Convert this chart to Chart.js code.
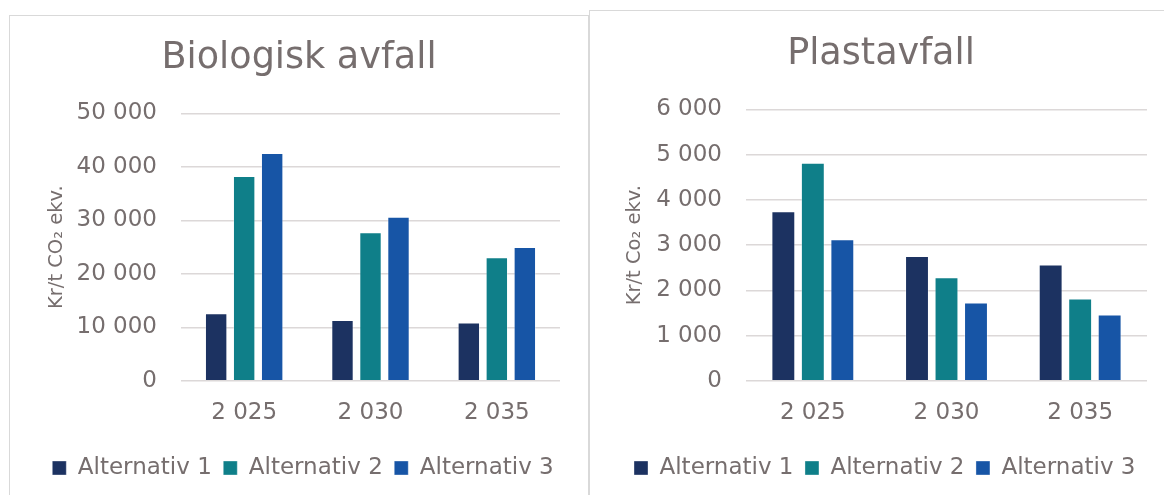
<!DOCTYPE html>
<html>
<head>
<meta charset="utf-8">
<script src="https://cdn.jsdelivr.net/npm/chart.js@4.4.1/dist/chart.umd.min.js"></script>
<style>
  html, body { margin: 0; padding: 0; background: #fff; width: 1164px; height: 495px; overflow: hidden; }
  .panel { position: absolute; box-sizing: border-box; border: 1px solid #d9d9d9; background: #fff; }
  #p1 { left: 9px; top: 15px; width: 580px; height: 510px; }
  #p2 { left: 589px; top: 10px; width: 584px; height: 515px; }
  canvas { position: absolute; left: 0; top: 0; }
</style>
</head>
<body>
<div class="panel" id="p1"><canvas id="bio" width="578" height="480"></canvas></div>
<div class="panel" id="p2"><canvas id="plast" width="582" height="485"></canvas></div>
<script>
// Categories and series
const categories = ['2 025', '2 030', '2 035'];
const seriesNames = ['Alternativ 1', 'Alternativ 2', 'Alternativ 3'];
const seriesColors = ['#1c3261', '#0f7f89', '#1755a6'];

// Biologisk avfall, kr per tonn CO2-ekvivalent
const bioAlt1 = [12650, 11350, 10900];
const bioAlt2 = [38300, 27800, 23100];
const bioAlt3 = [42600, 30700, 25000];

// Plastavfall, kr per tonn CO2-ekvivalent
const plastAlt1 = [3750, 2760, 2570];
const plastAlt2 = [4820, 2290, 1820];
const plastAlt3 = [3130, 1730, 1465];

const textColor = '#766e6e';
const gridColor = '#dcd8d8';
const fontFamily = "'DejaVu Sans', Verdana, sans-serif";

function fmtThousands(v) {
  return String(Math.round(v)).replace(/\B(?=(\d{3})+(?!\d))/g, ' ');
}

// Nudges the legend row and the title sideways after layout
const boxShift = {
  id: 'boxShift',
  beforeDraw(chart, args, opts) {
    const move = (box, dx) => {
      if (box && dx && !box._shifted) {
        box.left += dx;
        box.right += dx;
        box._shifted = true;
      }
    };
    move(chart.legend, opts.legendDx);
    move(chart.titleBlock, opts.titleDx);
  }
};

function makeChart(id, cfg) {
  const datasets = [cfg.a1, cfg.a2, cfg.a3].map((vals, i) => ({
    label: seriesNames[i],
    data: vals,
    backgroundColor: seriesColors[i],
    borderColor: 'rgba(255,255,255,0.35)',
    borderWidth: 1,
    categoryPercentage: cfg.catPct,
    barPercentage: cfg.barPct
  }));
  return new Chart(document.getElementById(id), {
    type: 'bar',
    data: { labels: categories, datasets },
    plugins: [boxShift],
    options: {
      responsive: false,
      animation: false,
      devicePixelRatio: 1,
      layout: { padding: { left: cfg.padLeft, right: cfg.padRight, top: 0, bottom: 6.5 } },
      plugins: {
        tooltip: { enabled: false },
        boxShift: { legendDx: cfg.legendDx, titleDx: cfg.titleDx },
        title: {
          display: true,
          text: cfg.title,
          color: textColor,
          font: { family: fontFamily, size: 36.6, weight: 'normal', lineHeight: 1.2 },
          padding: { top: cfg.titleTop, bottom: cfg.titleBottom }
        },
        legend: {
          position: 'bottom',
          align: 'start',
          labels: {
            color: textColor,
            font: { family: fontFamily, size: 23 },
            boxWidth: 14,
            boxHeight: 14,
            padding: 11.5
          }
        }
      },
      scales: {
        x: {
          grid: { display: false, drawTicks: false },
          border: { display: false },
          ticks: {
            color: textColor,
            font: { family: fontFamily, size: 23, lineHeight: '54px' },
            padding: 5.1
          }
        },
        y: {
          min: 0,
          max: cfg.max,
          grid: { color: gridColor, lineWidth: 1.5, drawTicks: false },
          border: { display: false },
          ticks: {
            stepSize: cfg.step,
            color: textColor,
            font: { family: fontFamily, size: 23 },
            padding: 24,
            callback: (v) => fmtThousands(v)
          },
          title: {
            display: true,
            text: cfg.yTitle,
            color: textColor,
            font: { family: fontFamily, size: 19.5 },
            padding: { top: cfg.yTitlePad, bottom: 0 }
          },
          afterFit: (scale) => { scale.width = cfg.axisWidth; }
        }
      }
    }
  });
}

makeChart('bio', {
  title: 'Biologisk avfall',
  yTitle: 'Kr/t CO\u2082 ekv.',
  a1: bioAlt1, a2: bioAlt2, a3: bioAlt3,
  max: 50000, step: 10000,
  catPct: 0.665, barPct: 0.8,
  padLeft: 20, padRight: 28, axisWidth: 151, yTitlePad: 15.3,
  legendDx: 10.8, titleDx: 4,
  titleTop: 20.6, titleBottom: 32.9
});

makeChart('plast', {
  title: 'Plastavfall',
  yTitle: 'Kr/t Co\u2082 ekv.',
  a1: plastAlt1, a2: plastAlt2, a3: plastAlt3,
  max: 6000, step: 1000,
  catPct: 0.662, barPct: 0.81,
  padLeft: 25, padRight: 25, axisWidth: 131, yTitlePad: 8.3,
  legendDx: 7.5, titleDx: 0,
  titleTop: 21.3, titleBottom: 33.2
});
</script>
</body>
</html>
